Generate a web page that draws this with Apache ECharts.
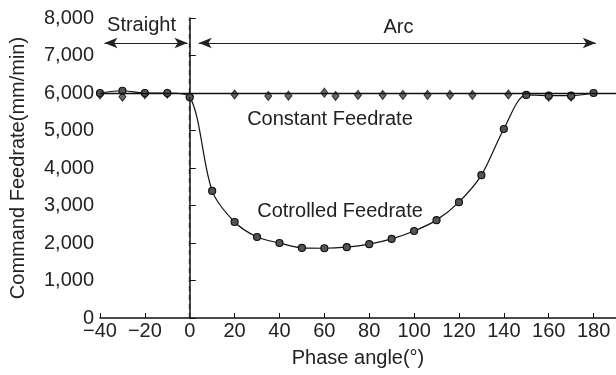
<!DOCTYPE html>
<html>
<head>
<meta charset="utf-8">
<script src="https://cdn.jsdelivr.net/npm/echarts@6/dist/echarts.min.js"></script>
<style>
  html, body { margin: 0; padding: 0; background: #fff; }
  #main { width: 616px; height: 375px; }
</style>
</head>
<body>
<div id="main"></div>
<script>
// phase angle (deg) / feedrate (mm/min)
var ctrlAngle = [-40, -30, -20, -10, 0, 10, 20, 30, 40, 50, 60, 70, 80, 90, 100, 110, 120, 130, 140, 150, 160, 170, 180];
var ctrlFeed = [6000, 6060, 6000, 6000, 5890, 3390, 2560, 2160, 2000, 1870, 1860, 1890, 1970, 2110, 2320, 2610, 3090, 3810, 5040, 5950, 5930, 5930, 6000];

var constAngle = [-40, -30, -20, -10, 0, 20, 35, 44, 60, 65, 75, 86, 95, 106, 116, 126, 142, 160, 170];
var constFeed = [5960, 5900, 5970, 5980, 5900, 5960, 5920, 5930, 6010, 5920, 5950, 5950, 5950, 5950, 5950, 5950, 5960, 5900, 5900];
var constLevel = 6000;

var yTicks = [0, 1000, 2000, 3000, 4000, 5000, 6000, 7000, 8000];
var xTicks = [-40, -20, 0, 20, 40, 60, 80, 100, 120, 140, 160, 180];

// section arrows: [name, from, to, level]
var sections = [
  ['Straight', -38, -1, 7333],
  ['Arc', 4, 181, 7333]
];
// text notes: [text, angle, feed]
var notes = [
  ['Straight', -21.5, 7810],
  ['Arc', 93, 7760],
  ['Constant Feedrate', 62.5, 5300],
  ['Cotrolled Feedrate', 67, 2830]
];

function pair(xs, ys) {
  return xs.map(function(x, i) { return [x, ys[i]]; });
}

var FONT = 'Liberation Sans';
var TXT = '#222';

var chart = echarts.init(document.getElementById('main'));
var option = {
  animation: false,
  grid: { left: 98, right: 0, top: 18, bottom: 57 },
  xAxis: {
    type: 'value',
    min: xTicks[0],
    max: 190,
    interval: 20,
    name: 'Phase angle(°)',
    nameLocation: 'middle',
    nameGap: 30,
    nameTextStyle: { fontFamily: FONT, fontSize: 20, color: TXT },
    axisLine: { lineStyle: { color: '#111', width: 1.5 } },
    axisTick: { inside: true, length: 5, lineStyle: { color: '#111' } },
    splitLine: { show: false },
    axisLabel: {
      margin: 3,
      fontFamily: FONT, fontSize: 20, color: TXT,
      showMaxLabel: false,
      formatter: function(v) {
        if (xTicks.indexOf(v) < 0) return '';
        return v < 0 ? '\u2212' + Math.abs(v) : String(v);
      }
    }
  },
  yAxis: {
    type: 'value',
    min: yTicks[0],
    max: yTicks[yTicks.length - 1],
    interval: 1000,
    name: 'Command Feedrate(mm/min)',
    nameLocation: 'middle',
    nameGap: 72,
    nameTextStyle: { fontFamily: FONT, fontSize: 20, color: TXT },
    axisLine: { show: true, lineStyle: { color: '#111', width: 1.5 } },
    axisTick: { show: true, inside: true, length: 6, lineStyle: { color: '#111' } },
    splitLine: { show: false },
    axisLabel: {
      margin: 6,
      fontFamily: FONT, fontSize: 20, color: TXT,
      formatter: function(v) { return v.toLocaleString('en-US'); }
    }
  },
  series: [
    {
      name: 'Constant Feedrate',
      type: 'scatter',
      data: pair(constAngle, constFeed),
      symbol: 'diamond',
      symbolSize: [7, 9],
      itemStyle: { color: '#444', borderColor: '#111', borderWidth: 1 },
      z: 3,
      markLine: {
        silent: true,
        symbol: 'none',
        label: { show: false },
        lineStyle: { color: '#111', width: 1.3, type: 'solid' },
        data: [{ yAxis: constLevel }]
      }
    },
    {
      name: 'Cotrolled Feedrate',
      type: 'line',
      data: pair(ctrlAngle, ctrlFeed),
      smooth: 0.3,
      smoothConstraint: false,
      symbol: 'circle',
      symbolSize: 7,
      lineStyle: { color: '#111', width: 1.2 },
      itemStyle: { color: '#555', borderColor: '#111', borderWidth: 1.2 },
      z: 4,
      markLine: {
        silent: true,
        label: { show: false },
        symbol: 'none',
        lineStyle: { color: '#222', width: 1.3, type: [5, 4] },
        data: [{ xAxis: 0 }]
      }
    },
    {
      name: 'notes',
      type: 'line',
      data: [],
      markLine: {
        silent: true,
        symbol: ['arrow', 'arrow'],
        symbolSize: [8, 13],
        label: { show: false },
        lineStyle: { color: '#222', width: 1, type: 'solid' },
        data: sections.map(function(s) {
          return [{ coord: [s[1], s[3]] }, { coord: [s[2], s[3]] }];
        })
      },
      markPoint: {
        silent: true,
        symbol: 'circle',
        symbolSize: 1,
        itemStyle: { color: 'rgba(0,0,0,0)' },
        label: {
          show: true,
          position: 'inside',
          fontFamily: FONT, fontSize: 20, color: TXT,
          formatter: '{b}'
        },
        data: notes.map(function(n) {
          return { name: n[0], coord: [n[1], n[2]] };
        })
      }
    }
  ]
};
chart.setOption(option);
</script>
</body>
</html>
